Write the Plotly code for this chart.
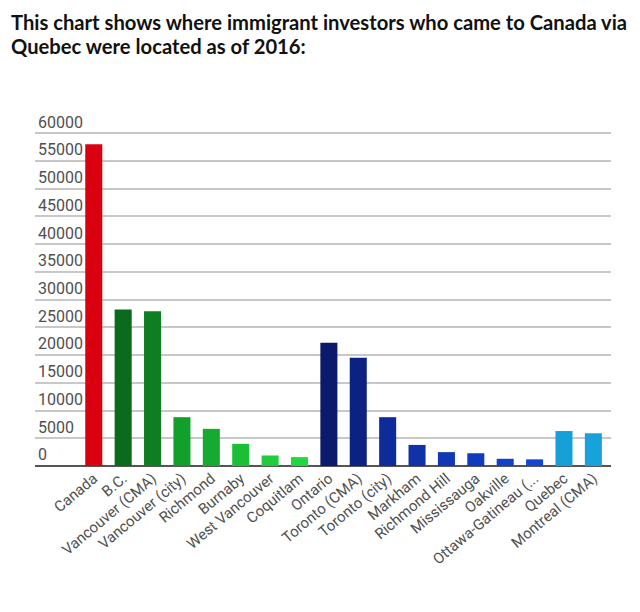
import plotly.graph_objects as go

places = [
    "Canada", "B.C.", "Vancouver (CMA)", "Vancouver (city)", "Richmond", "Burnaby",
    "West Vancouver", "Coquitlam", "Ontario", "Toronto (CMA)", "Toronto (city)",
    "Markham", "Richmond Hill", "Mississauga", "Oakville", "Ottawa-Gatineau (...",
    "Quebec", "Montreal (CMA)",
]
investors = [
    58000, 28200, 27900, 8800, 6700, 4000, 1900, 1600, 22200, 19500, 8800,
    3800, 2500, 2300, 1300, 1200, 6300, 5900,
]
bar_colors = [
    "#d90010",
    "#0b6b1c", "#0d7f22", "#12a02b", "#16aa30", "#1bbf36", "#20cc3b", "#22d640",
    "#0b1a6b", "#0c2282", "#0d2c99", "#0f32a8", "#1037b5", "#113bbd", "#1240c8", "#1446d2",
    "#15a0d8", "#18a2dc",
]
y_ticks = list(range(0, 60001, 5000))

fig = go.Figure(
    go.Bar(
        x=places,
        y=investors,
        marker=dict(color=bar_colors, line=dict(width=0)),
        hovertemplate="%{x}: %{y}<extra></extra>",
    )
)

# the page body has an 8px default margin, so margins are offset by that
fig.update_layout(
    width=640,
    height=612,
    paper_bgcolor="white",
    plot_bgcolor="white",
    margin=dict(l=27, r=37, t=103, b=154, autoexpand=False),
    bargap=0.42,
    showlegend=False,
    font=dict(family="Roboto", color="#555555"),
    xaxis=dict(
        type="category",
        range=[-2.0, 17.6],
        tickangle=-40,
        tickfont=dict(size=15, color="#505050"),
        showgrid=False,
        showline=False,
        ticks="",
        automargin=False,
    ),
    yaxis=dict(
        range=[0, 64000],
        tickvals=y_ticks,
        ticktext=[str(v) for v in y_ticks],
        ticklabelposition="inside top",
        tickfont=dict(size=16, color="#505050"),
        gridcolor="#c8c8c8",
        gridwidth=1.5,
        zeroline=True,
        zerolinecolor="#555555",
        zerolinewidth=2,
        showline=False,
        ticks="",
        automargin=False,
    ),
    annotations=[
        dict(
            text="This chart shows where immigrant investors who came to Canada via",
            xref="paper", yref="paper", x=-0.046, y=1.0, xanchor="left", yanchor="bottom",
            yshift=75, showarrow=False,
            font=dict(family="Lato", size=20.2, color="#111111", weight="bold"),
        ),
        dict(
            text="Quebec were located as of 2016:",
            xref="paper", yref="paper", x=-0.046, y=1.0, xanchor="left", yanchor="bottom",
            yshift=51, showarrow=False,
            font=dict(family="Lato", size=20.2, color="#111111", weight="bold"),
        ),
    ],
)

fig.write_html("out.html")
